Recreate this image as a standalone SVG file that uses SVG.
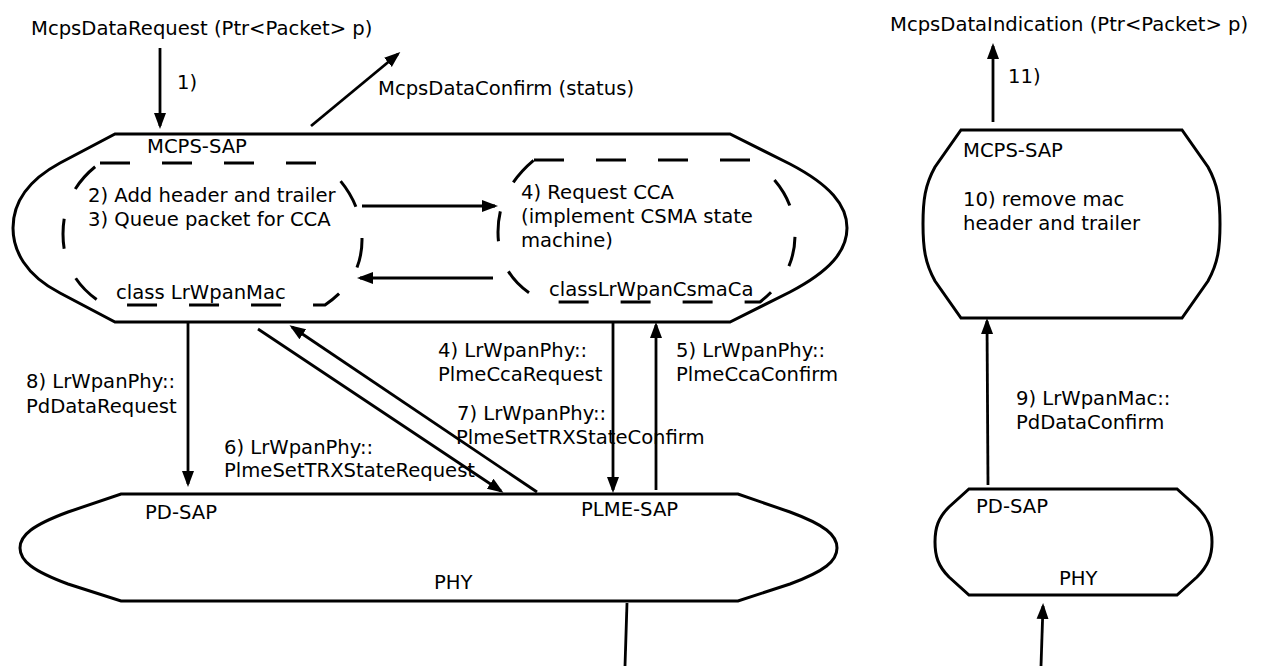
<svg xmlns="http://www.w3.org/2000/svg" width="1266" height="666" viewBox="0 0 1266 666">
<style>
  text { font-family: "DejaVu Sans", "Liberation Sans", sans-serif; font-size: 19.6px; fill: #000; }
  .shape { fill: #fff; stroke: #000; stroke-width: 3; stroke-linejoin: miter; }
  .dash { fill: none; stroke: #000; stroke-width: 3; stroke-dasharray: 30 32; }
  .conn { fill: none; stroke: #000; stroke-width: 2.8; marker-end: url(#arr); }
  .plain { fill: none; stroke: #000; stroke-width: 2.8; }
</style>
<defs>
  <marker id="arr" markerUnits="userSpaceOnUse" markerWidth="18" markerHeight="14" refX="13" refY="7" orient="auto">
    <path d="M0,1 L16,7 L0,13 Z" fill="#000"/>
  </marker>
</defs>
<rect width="1266" height="666" fill="#fff"/>

<g id="mac-layer">
  <path class="shape" d="M115,134 L730,134 L790,164 C830,185 847,205 847,228 C847,251 830,271 790,292 L730,322 L115,322 L60,293 C25,275 13,250 13,228 C13,205 25,182 60,163 Z"/>
  <text x="147" y="153">MCPS-SAP</text>
</g>

<g id="lrwpanmac">
  <path class="dash" d="M100,163 L322,163 Q362,195 362,240 Q362,280 325,305 L105,305 Q63,280 63,234 Q63,190 100,163 Z"/>
  <text x="88" y="202">2) Add header and trailer</text>
  <text x="88" y="226">3) Queue packet for CCA</text>
  <text x="116" y="299">class LrWpanMac</text>
</g>

<g id="csmaca">
  <path class="dash" d="M534,160 L752,160 Q795,190 795,235 Q795,275 760,302 L545,302 Q498,280 498,232 Q498,190 534,160 Z"/>
  <text x="521" y="199">4) Request CCA</text>
  <text x="521" y="223">(implement CSMA state</text>
  <text x="521" y="247">machine)</text>
  <text x="549" y="296">classLrWpanCsmaCa</text>
</g>

<g id="phy-layer">
  <path class="shape" d="M121,494 L738,494 L790,512 C825,525 837,535 837,548 C837,561 825,571 790,584 L738,601 L121,601 L68,584 C33,571 20,561 20,548 C20,535 33,525 68,512 Z"/>
  <text x="145" y="519">PD-SAP</text>
  <text x="581" y="516">PLME-SAP</text>
  <text x="434" y="589">PHY</text>
</g>

<g id="rx-mac">
  <path class="shape" d="M961,130 L1182,130 L1208,167 C1218,185 1220,200 1220,224 C1220,248 1218,263 1208,281 L1182,318 L961,318 L935,281 C925,263 923,248 923,224 C923,200 925,185 935,167 Z"/>
  <text x="963" y="157">MCPS-SAP</text>
  <text x="963" y="206">10) remove mac</text>
  <text x="963" y="230">header and trailer</text>
</g>

<g id="rx-phy">
  <path class="shape" d="M969,489 L1177,489 L1197,507 C1208,518 1212,528 1212,542 C1212,556 1208,566 1197,577 L1177,595 L969,595 L949,577 C938,566 935,556 935,542 C935,528 938,518 949,507 Z"/>
  <text x="976" y="513">PD-SAP</text>
  <text x="1059" y="585">PHY</text>
</g>

<g id="labels">
  <text x="31" y="35">McpsDataRequest (Ptr&lt;Packet&gt; p)</text>
  <text x="177" y="89">1)</text>
  <text x="378" y="95">McpsDataConfirm (status)</text>
  <text x="890" y="31">McpsDataIndication (Ptr&lt;Packet&gt; p)</text>
  <text x="1008" y="83">11)</text>
  <text x="26" y="388">8) LrWpanPhy::</text>
  <text x="26" y="413">PdDataRequest</text>
  <text x="224" y="454">6) LrWpanPhy::</text>
  <text x="224" y="477">PlmeSetTRXStateRequest</text>
  <text x="438" y="357">4) LrWpanPhy::</text>
  <text x="438" y="381">PlmeCcaRequest</text>
  <text x="676" y="357">5) LrWpanPhy::</text>
  <text x="676" y="381">PlmeCcaConfirm</text>
  <text x="457" y="420">7) LrWpanPhy::</text>
  <text x="456" y="444">PlmeSetTRXStateConfirm</text>
  <text x="1016" y="405">9) LrWpanMac::</text>
  <text x="1016" y="429">PdDataConfirm</text>
</g>

<g id="connectors">
  <line class="conn" x1="160" y1="48" x2="160" y2="126"/>
  <line class="conn" x1="311" y1="126" x2="398" y2="54"/>
  <line class="conn" x1="362" y1="206" x2="495" y2="206"/>
  <line class="conn" x1="493" y1="278" x2="360" y2="278"/>
  <line class="conn" x1="188" y1="322" x2="188" y2="484"/>
  <line class="conn" x1="258" y1="329" x2="501" y2="491"/>
  <line class="conn" x1="537" y1="492" x2="292" y2="327"/>
  <line class="conn" x1="613" y1="322" x2="613" y2="490"/>
  <line class="conn" x1="656" y1="490" x2="656" y2="325"/>
  <line class="plain" x1="627" y1="603" x2="625" y2="666"/>
  <line class="conn" x1="993" y1="122" x2="993" y2="46"/>
  <line class="conn" x1="988" y1="485" x2="987" y2="321"/>
  <line class="conn" x1="1041" y1="666" x2="1043" y2="606"/>
</g>
</svg>
